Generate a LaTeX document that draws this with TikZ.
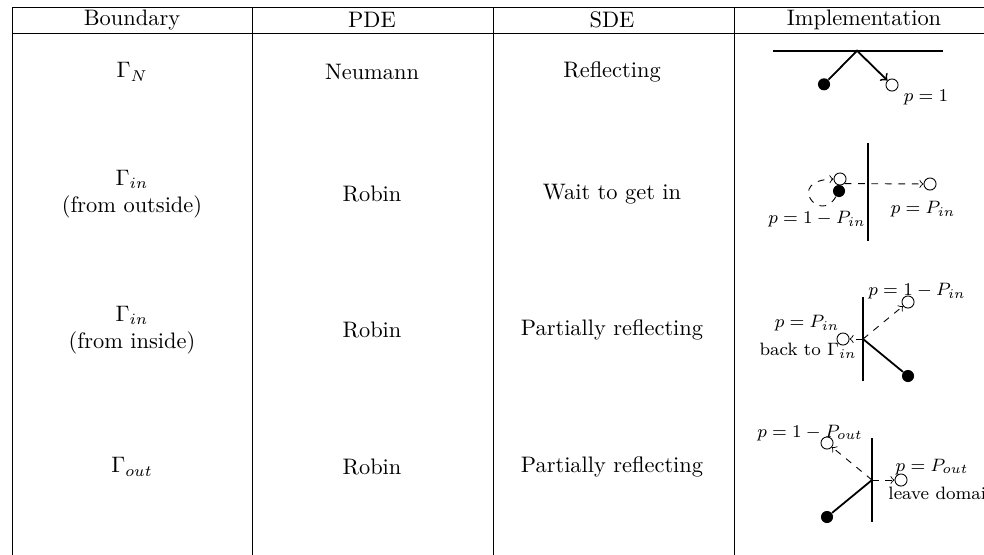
\documentclass[tikz,border=0pt]{standalone}
\usepackage{amsmath}
\usepackage{tikz}
\usetikzlibrary{arrows.meta}

\begin{document}
\begin{tikzpicture}[x=0.4464pt, y=-0.4464pt, node distance=107.14pt]
    \tikzset{cell/.style = {align=center}}
    \tikzset{hit/.style = {circle, fill=black, inner sep=0pt, minimum size=5.4pt}}
    \tikzset{land/.style = {circle, draw=black, inner sep=0pt, minimum size=5.4pt}}
    \tikzset{wall/.style = {thick}}
    \tikzset{walk/.style = {>=to, thick}}
    \tikzset{jump/.style = {>=to, dashed}}
    \tikzset{prob/.style = {font=\footnotesize, inner sep=0pt}}
    \useasboundingbox (0,0) rectangle (984,554);
    % table rules
    \draw (12,7.5) -- (1000,7.5);
    \draw (12,33) -- (1000,33);
    \foreach \x in {12,252,493,734}
        \draw (\x,7.5) -- (\x,560);
    % header
    \node (bound) at (132,20) {Boundary};
    \node (pde) [right of=bound] {PDE};
    \node (sde) [right of=pde] {SDE};
    \node (impl) at (864,20) {Implementation};
    % rows
    \node (gn) at (132,72) {$\Gamma_N$};
    \node (gnpde) [right of=gn] {Neumann};
    \node (gnsde) [right of=gnpde] {Reflecting};
    \node[cell] (gwin) at (132,194) {$\Gamma_{in}$\\(from outside)};
    \node (gwinpde) [right of=gwin] {Robin};
    \node (gwinsde) [right of=gwinpde] {Wait to get in};
    \node[cell] (gpin) at (132,330) {$\Gamma_{in}$\\(from inside)};
    \node (gpinpde) [right of=gpin] {Robin};
    \node (gpinsde) [right of=gpinpde] {Partially reflecting};
    \node (gout) at (132,467) {$\Gamma_{out}$};
    \node (goutpde) [right of=gout] {Robin};
    \node (goutsde) [right of=goutpde] {Partially reflecting};
    % Neumann: reflecting
    \draw[wall] (773,50.7) -- (943,50.7);
    \coordinate (neuhit) at (857,50.7);
    \node[hit] (neustart) at (824,84.3) {};
    \node[land] (neuend) at (892,85) {};
    \draw[->, walk] (neustart) -- (neuhit) -- (neuend);
    \node[prob] (neulab) at (926,97) {$p=1$};
    % Robin from outside: wait to get in
    \draw[wall] (868,143) -- (868,241);
    \node[hit] (winstart) at (839,191) {};
    \node[land] (winstay) at (840,179) {};
    \node[land] (winin) at (930,184) {};
    \draw[->, jump] (winstart) .. controls (820,225) and (785,180) .. (winstay);
    \draw[->, jump] (winstay.south east) -- (winin);
    \node[prob, anchor=east] (winlabstay) at (866,219) {$p=1-P_{in}$};
    \node[prob] (winlabin) at (923,209) {$p=P_{in}$};
    % Robin from inside: partially reflecting
    \draw[wall] (863,297) -- (863,381);
    \node[hit] (pinstart) at (908,376) {};
    \coordinate (pinhit) at (863,339);
    \node[land] (pinout) at (908,302) {};
    \node[land] (pinback) at (843,339) {};
    \draw[walk] (pinstart) -- (pinhit);
    \draw[->, jump] (pinhit) -- (pinout);
    \draw[->, jump] (pinhit) -- (pinback);
    \node[prob] (pinlabout) at (917,291) {$p=1-P_{in}$};
    \node[prob] (pinlabback) at (807,323) {$p=P_{in}$};
    \node[prob] (pinlabto) at (808,351) {back to $\Gamma_{in}$};
    % Robin out: partially reflecting
    \draw[wall] (872,438) -- (872,522);
    \node[hit] (poutstart) at (827,517) {};
    \coordinate (pouthit) at (872,480);
    \node[land] (poutback) at (827,443) {};
    \node[land] (poutleave) at (901,480) {};
    \draw[walk] (poutstart) -- (pouthit);
    \draw[->, jump] (pouthit) -- (poutback);
    \draw[->, jump] (pouthit) -- (poutleave);
    \node[prob] (poutlabback) at (810,433) {$p=1-P_{out}$};
    \node[prob] (poutlableave) at (932,467) {$p=P_{out}$};
    \node[prob, anchor=west] (poutlabdom) at (888,493) {leave domain};
\end{tikzpicture}
\end{document}
